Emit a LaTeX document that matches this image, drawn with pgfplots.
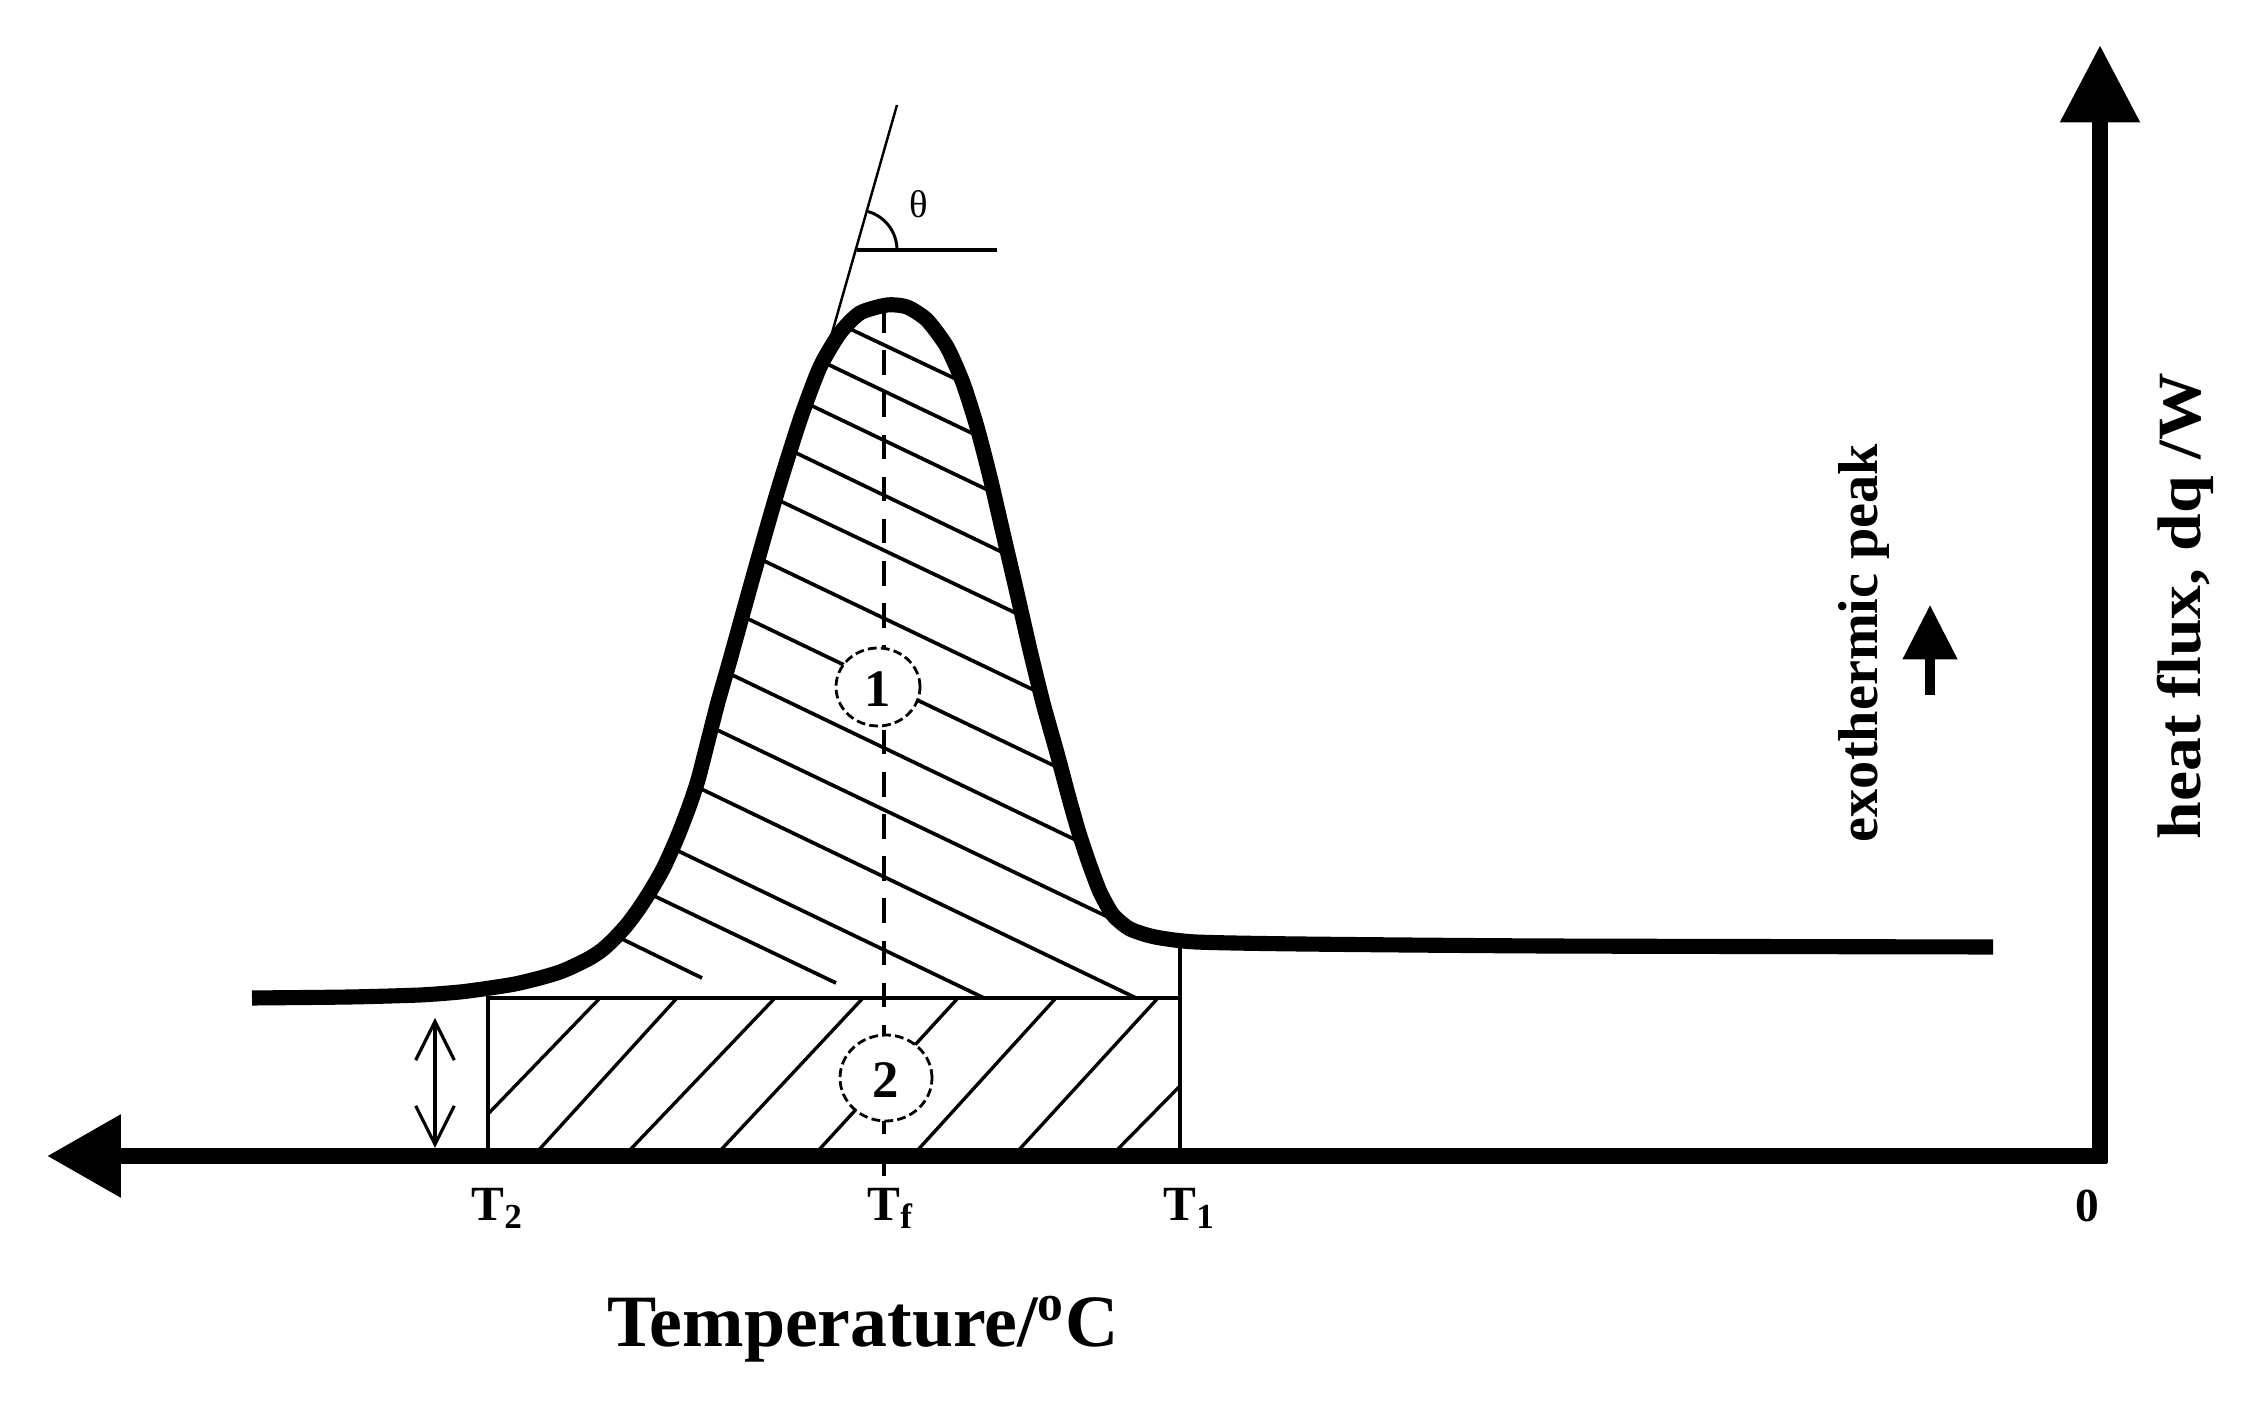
\documentclass[border=0pt]{standalone}
\usepackage{pgfplots}
\pgfplotsset{compat=1.18}
\usetikzlibrary{arrows.meta}
\usepackage{fontspec}
\setmainfont{Liberation Serif}
\newcommand{\fs}[1]{\fontsize{#1}{#1}\selectfont}
\begin{document}
\begin{tikzpicture}
\begin{axis}[name=ax, hide axis, scale only axis, width=225.6mm, height=140.7mm,
  xmin=0, xmax=2256, ymin=0, ymax=1407, y dir=reverse, clip=false,
  unbounded coords=jump]
% hatching of region 1
\addplot[black, line width=1.05pt] coordinates {
(846,327) (960,381) (nan,nan)
(823,362) (980,437) (nan,nan)
(806,403) (994,493) (nan,nan)
(790,450) (1008,555) (nan,nan)
(776,499) (1022,616) (nan,nan)
(758,558) (1040,693) (nan,nan)
(742,616) (1061,769) (nan,nan)
(726,672) (1082,843) (nan,nan)
(711,727) (1110,918) (nan,nan)
(695,786) (1136,998) (nan,nan)
(672,848) (984,998) (nan,nan)
(648,893) (836,983) (nan,nan)
(616,936) (702,978)
};
% hatching of region 2
\addplot[black, line width=0.95pt] coordinates {
(488,1114) (600,998) (nan,nan)
(537,1152) (677,998) (nan,nan)
(628,1152) (775,998) (nan,nan)
(719,1152) (863,998) (nan,nan)
(817,1152) (958,998) (nan,nan)
(916,1152) (1056,998) (nan,nan)
(1017,1152) (1158,998) (nan,nan)
(1115,1152) (1180,1086)
};
% Tf dashed line
\addplot[black, line width=1.3pt, dash pattern=on 7pt off 5pt] coordinates {(884,308) (884,1178)};
% rectangle of region 2 and T1 line
\addplot[black, line width=1pt] coordinates {(488,1156) (488,998) (1180,998)};
\addplot[black, line width=1pt] coordinates {(1180,1156) (1180,942)};
% circles (white filled) with their numbers
\draw[fill=white, line width=0.8pt, dash pattern=on 2.5pt off 1.2pt] (axis cs:878,687) ellipse[x radius=4.2mm, y radius=3.9mm];
\draw[fill=white, line width=0.8pt, dash pattern=on 2.5pt off 1.2pt] (axis cs:886,1078) ellipse[x radius=4.6mm, y radius=4.3mm];
\node[anchor=center] at (axis cs:878,689) {\fs{15pt}\bfseries 1};
\node[anchor=center] at (axis cs:886,1080) {\fs{15pt}\bfseries 2};
% DSC curve
\addplot[black, line width=4.3pt, line join=round, smooth, tension=0.4] coordinates {
(252,998) (350,997) (420,995) (460,992) (490,988) (515,984) (540,978) (560,972)
(574,966) (590,958) (602,950) (613,940) (626,926) (638,910) (651,890) (664,867)
(677,838) (689,807) (698,780) (707,745) (718,702) (730,660) (753,577) (777,493)
(800,420) (820,367) (840,333) (860,313) (887,305) (907,307) (927,320) (947,347)
(963,383) (977,427) (990,477) (1003,533) (1017,593) (1030,650) (1043,703)
(1057,753) (1069,798) (1079,833) (1089,863) (1100,892) (1113,915) (1130,929)
(1155,937) (1196,942) (1300,944) (1546,946) (1993,947)
};
% tangent and angle
\addplot[black, line width=0.7pt] coordinates {(830,340) (897,105)};
\addplot[black, line width=1.1pt] coordinates {(857,250) (997,250)};
\draw[line width=0.85pt] (axis cs:897,250) arc[start angle=0, end angle=74, radius=4mm];
% double arrow
\addplot[black, line width=0.9pt, {Straight Barb[length=11pt,width=11pt]}-{Straight Barb[length=11pt,width=11pt]}] coordinates {(435,1148) (435,1018)};
% axes
\addplot[black, line width=4.3pt, -{Triangle[length=21pt,width=22.5pt]}] coordinates {(2107,1156) (47,1156)};
\addplot[black, line width=4.3pt, -{Triangle[length=22pt,width=21.6pt]}] coordinates {(2100,1163) (2100,45)};
% small arrow
\addplot[black, line width=2.6pt, -{Triangle[length=15.5pt,width=15pt]}] coordinates {(1930,695) (1930,605)};
% labels
\node[anchor=center] at (axis cs:919,204) {\fs{11pt}θ};
\node[anchor=base] at (axis cs:488,1221) {\fs{14pt}\bfseries T\rlap{\raisebox{-0.35ex}{\fs{10pt}2}}};
\node[anchor=base] at (axis cs:884,1221) {\fs{14pt}\bfseries T\rlap{\raisebox{-0.35ex}{\fs{10pt}f}}};
\node[anchor=base] at (axis cs:1180,1221) {\fs{14pt}\bfseries T\rlap{\raisebox{-0.35ex}{\fs{10pt}1}}};
\node[anchor=base] at (axis cs:2087,1222) {\fs{13.5pt}\bfseries 0};
\node[anchor=base] at (axis cs:863,1347) {\fs{21pt}\bfseries Temperature/\textsuperscript{o}C};
\node[anchor=base, rotate=90] at (axis cs:1877,643) {\fs{16pt}\bfseries exothermic peak};
\node[anchor=base, rotate=90] at (axis cs:2200,606) {\scalebox{1.1}[1]{\fs{17.5pt}\bfseries heat flux, dq /W}};
\end{axis}
\pgfresetboundingbox
\useasboundingbox (ax.south west) rectangle (ax.north east);
\end{tikzpicture}
\end{document}
